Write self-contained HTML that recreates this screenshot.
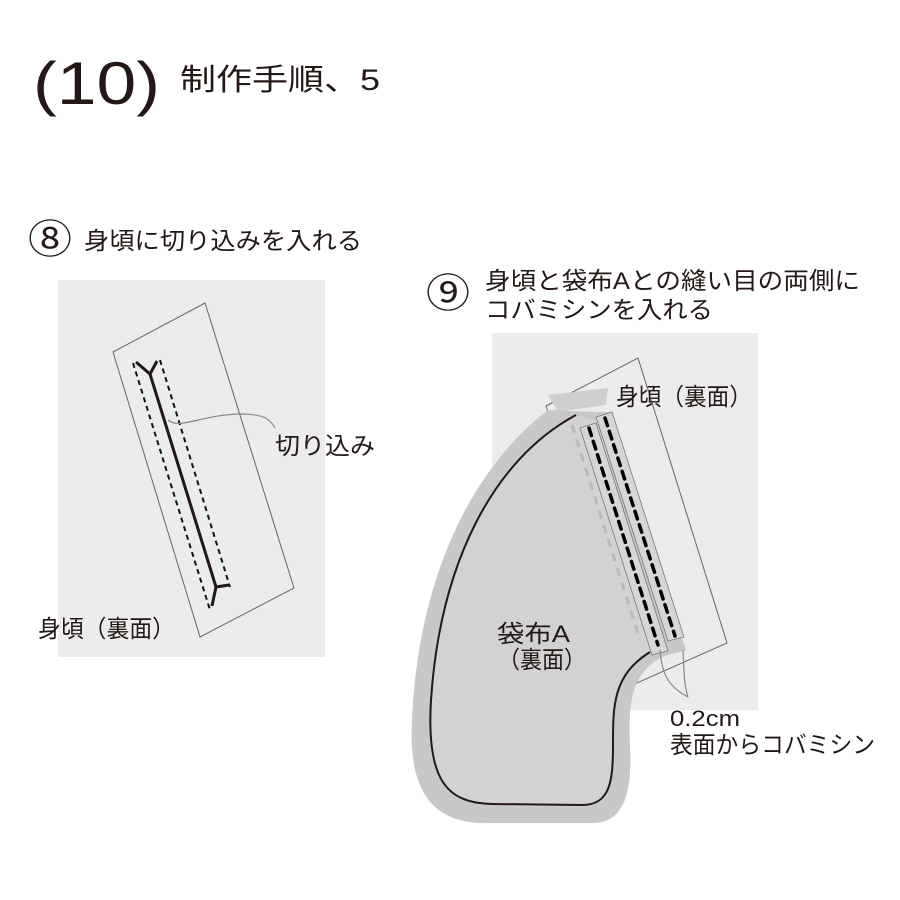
<!DOCTYPE html>
<html><head><meta charset="utf-8"><style>
html,body{margin:0;padding:0;background:#fff;}
svg{display:block;}
text{font-family:"Liberation Sans","Noto Sans CJK JP",sans-serif;fill:#231815;}
</style></head><body>
<svg width="900" height="900" viewBox="0 0 900 900" xmlns="http://www.w3.org/2000/svg">
<text x="33" y="104" font-size="60" textLength="127" lengthAdjust="spacingAndGlyphs">(10)</text>
<text x="180" y="90" font-size="30" textLength="200" lengthAdjust="spacingAndGlyphs">制作手順、5</text>
<text x="28" y="253" font-size="40" textLength="44" lengthAdjust="spacingAndGlyphs">⑧</text>
<text x="84" y="249" font-size="24" textLength="278" lengthAdjust="spacingAndGlyphs">身頃に切り込みを入れる</text>
<text x="426" y="307" font-size="40" textLength="44" lengthAdjust="spacingAndGlyphs">⑨</text>
<text x="485" y="289" font-size="24" textLength="375" lengthAdjust="spacingAndGlyphs">身頃と袋布Aとの縫い目の両側に</text>
<text x="485" y="318" font-size="24" textLength="228" lengthAdjust="spacingAndGlyphs">コバミシンを入れる</text>

<!-- left panel -->
<rect x="58" y="280" width="267" height="377" fill="#ececec"/>
<polygon points="113,352 205,303 294,588 200,637" fill="none" stroke="#666" stroke-width="1"/>
<line x1="133" y1="363" x2="210" y2="610" stroke="#111" stroke-width="2" stroke-dasharray="5,4"/>
<line x1="160" y1="360" x2="230" y2="587" stroke="#111" stroke-width="2" stroke-dasharray="5,4"/>
<polyline points="136,362 150,374 157,361" fill="none" stroke="#231815" stroke-width="3"/>
<line x1="150" y1="374" x2="216" y2="587" stroke="#231815" stroke-width="3"/>
<polyline points="212,606 216,587 229,585" fill="none" stroke="#231815" stroke-width="3"/>
<path d="M168,420 C180,430 200,415 240,414 C262,414 270,418 275,428" fill="none" stroke="#888" stroke-width="1.2"/>
<text x="275" y="454" font-size="24" textLength="100" lengthAdjust="spacingAndGlyphs">切り込み</text>
<text x="38" y="637" font-size="24" textLength="137" lengthAdjust="spacingAndGlyphs">身頃（裏面）</text>

<!-- right panel -->
<rect x="492" y="333" width="266" height="377" fill="#ececec"/>
<polygon points="546,406 638,358 727,643 637,683" fill="none" stroke="#666" stroke-width="1"/>
<polygon points="548,395 608,388 606,405 558,412" fill="#cfcfcf"/>
<path d="M548,410 C470,470 418,580 412,720 C408,790 432,822 482,823 L592,823 C626,823 632,790 630,745 C628,700 632,674 662,657 L686,650 L682,638 L612,412 L596,412 Z" fill="#c8c8c8"/>
<path d="M575,415 C492,460 440,565 431,700 C426,782 448,803 492,804 L582,805 C610,805 613,782 613,745 C613,705 613,675 652,652 L600,422 Z" fill="#d2d2d2"/>
<polygon points="580,428 596,423 668,651 652,655" fill="#d6d6d6" stroke="#777" stroke-width="0.8"/>
<polygon points="596,417 612,412 684,637 668,641" fill="#d6d6d6" stroke="#777" stroke-width="0.8"/>
<line x1="572" y1="425" x2="640" y2="640" stroke="#b8b8b8" stroke-width="3" stroke-dasharray="8,7"/>
<line x1="589" y1="428" x2="658" y2="645" stroke="#000" stroke-width="3.5" stroke-dasharray="8,6" stroke-linecap="round"/>
<line x1="605" y1="418" x2="675" y2="636" stroke="#000" stroke-width="3.5" stroke-dasharray="8,6" stroke-linecap="round"/>
<path d="M576,415 C492,460 440,565 431,700 C426,782 448,803 492,804 L582,805 C610,805 613,782 613,745 C613,705 613,675 650,652" fill="none" stroke="#231815" stroke-width="2"/>
<path d="M660,650 C662,670 665,685 688,697 M683,650 C684,670 684,685 688,697" fill="none" stroke="#888" stroke-width="1.2"/>
<text x="616" y="405" font-size="24" textLength="136" lengthAdjust="spacingAndGlyphs">身頃（裏面）</text>
<text x="497" y="642" font-size="24" textLength="73" lengthAdjust="spacingAndGlyphs">袋布A</text>
<text x="498" y="668" font-size="24" textLength="88" lengthAdjust="spacingAndGlyphs">（裏面）</text>
<text x="670" y="726" font-size="22" textLength="70" lengthAdjust="spacingAndGlyphs">0.2cm</text>
<text x="670" y="753" font-size="24" textLength="205" lengthAdjust="spacingAndGlyphs">表面からコバミシン</text>
</svg>
</body></html>
